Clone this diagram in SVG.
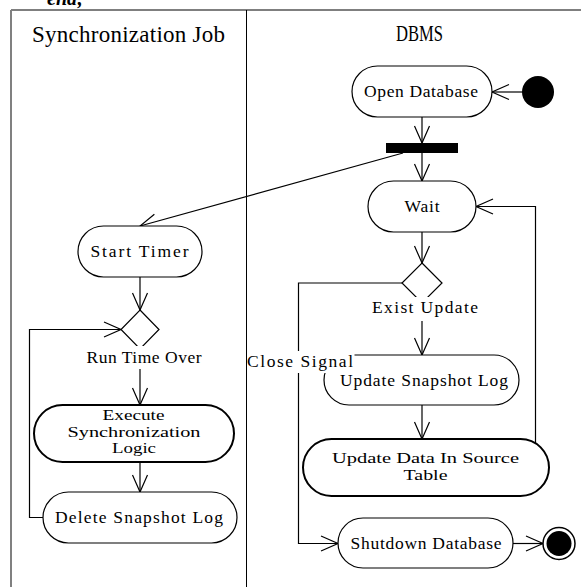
<svg xmlns="http://www.w3.org/2000/svg" width="581" height="587" viewBox="0 0 581 587">
  <style>
    .act { fill: #fff; stroke: #000; stroke-width: 1.2; }
    .act.thick { stroke-width: 2; }
    .lbl { font-family: "Liberation Serif", "Times New Roman", serif; font-size: 17.5px; fill: #000; text-anchor: middle; }
    .lbl.multi { font-size: 15px; }
    .hdr { font-family: "Liberation Serif", "Times New Roman", serif; font-size: 23px; fill: #000; }
    .edge { fill: none; stroke: #000; stroke-width: 1.2; }
    .bg { fill: #fff; }
  </style>
  <defs>
    <marker id="open" viewBox="-19 -10 21 20" refX="0" refY="0" markerWidth="21" markerHeight="20" markerUnits="userSpaceOnUse" orient="auto">
      <path d="M-17,-7.5 L0,0 L-17,7.5" fill="none" stroke="#000" stroke-width="1.2"/>
    </marker>
  </defs>
  <rect width="581" height="587" fill="#fff"/>

  <!-- fragment of preceding text -->
  <text x="47" y="5" font-family="Liberation Serif, serif" font-size="20" font-weight="bold" font-style="italic">end;</text>

  <!-- swimlane frame -->
  <g id="lanes">
    <line x1="11" y1="10" x2="581" y2="10" stroke="#000" stroke-width="1.2"/>
    <line x1="11" y1="10" x2="11" y2="587" stroke="#808080" stroke-width="2"/>
    <line x1="246.5" y1="10" x2="246.5" y2="587" stroke="#000" stroke-width="1"/>
    <text class="hdr" x="32" y="42" textLength="193">Synchronization Job</text>
    <text class="hdr" x="396" y="41" font-size="26" textLength="47" lengthAdjust="spacingAndGlyphs">DBMS</text>
  </g>

  <!-- connectors -->
  <g id="connectors" class="edge" marker-end="url(#open)">
    <path d="M522,92 L492,92"/>
    <path d="M422,117 L422,143"/>
    <path d="M422,153 L422,181"/>
    <path d="M403,153 L140,226"/>
    <path d="M140,277 L140,310"/>
    <path d="M43,517.5 L29.5,517.5 L29.5,329.5 L121,329.5"/>
    <path d="M140,369 L140,405"/>
    <path d="M140,462 L140,492"/>
    <path d="M422,232 L422,263"/>
    <path d="M402,283 L298.5,283 L298.5,543.5 L338,543.5"/>
    <path d="M422,321 L422,355"/>
    <path d="M422,405 L422,439"/>
    <path d="M535.5,443 L535.5,206.5 L476,206.5"/>
    <path d="M513,543.5 L543,543.5"/>
  </g>

  <!-- DBMS lane -->
  <g id="start">
    <circle cx="538" cy="92" r="16" fill="#000"/>
  </g>
  <g id="open-database">
    <rect class="act" x="352" y="66" width="140" height="51" rx="25.5"/>
    <text class="lbl" x="421" y="97" textLength="114">Open Database</text>
  </g>
  <g id="fork">
    <rect x="386" y="143" width="72" height="10" fill="#000"/>
  </g>
  <g id="wait">
    <rect class="act" x="368" y="181" width="108" height="51" rx="25.5"/>
    <text class="lbl" x="422" y="211.5" textLength="35">Wait</text>
  </g>
  <g id="exist-update">
    <polygon class="act" points="422,263 442,283 422,303 402,283"/>
    <rect class="bg" x="368" y="297" width="114" height="23"/>
    <text class="lbl" x="425" y="313" textLength="106">Exist Update</text>
  </g>
  <g id="update-snapshot-log">
    <rect class="act" x="324" y="355" width="195" height="50" rx="25"/>
    <text class="lbl" x="424" y="386" textLength="168">Update Snapshot Log</text>
  </g>
  <g id="update-data">
    <rect class="act thick" x="303" y="439" width="246" height="57" rx="28.5"/>
    <text class="lbl multi"><tspan x="425.5" y="462.5" textLength="187" lengthAdjust="spacingAndGlyphs">Update Data In Source</tspan><tspan x="425.5" y="479.5" textLength="44" lengthAdjust="spacingAndGlyphs">Table</tspan></text>
  </g>
  <g id="shutdown-database">
    <rect class="act" x="338" y="518" width="175" height="50" rx="25"/>
    <text class="lbl" x="426" y="549" textLength="151">Shutdown Database</text>
  </g>
  <g id="end">
    <circle cx="559" cy="543.5" r="16" fill="#fff" stroke="#000" stroke-width="1.5"/>
    <circle cx="559" cy="543.5" r="12.5" fill="#000"/>
  </g>
  <g id="close-signal">
    <rect class="bg" x="247.5" y="351" width="107" height="22"/>
    <text class="lbl" x="300" y="367" textLength="106">Close Signal</text>
  </g>

  <!-- Synchronization Job lane -->
  <g id="start-timer">
    <rect class="act" x="78" y="226" width="124" height="51" rx="25.5"/>
    <text class="lbl" x="139.5" y="256.5" textLength="98">Start Timer</text>
  </g>
  <g id="run-time-over">
    <polygon class="act" points="140,310 159,329.5 140,349 121,329.5"/>
    <rect class="bg" x="84" y="346" width="120" height="23"/>
    <text class="lbl" x="144" y="363" textLength="115">Run Time Over</text>
  </g>
  <g id="execute-sync">
    <rect class="act thick" x="34" y="405" width="200" height="57" rx="28.5"/>
    <text class="lbl multi"><tspan x="133.5" y="420" textLength="62" lengthAdjust="spacingAndGlyphs">Execute</tspan><tspan x="134" y="436.7" textLength="133" lengthAdjust="spacingAndGlyphs">Synchronization</tspan><tspan x="134" y="453.4" textLength="44" lengthAdjust="spacingAndGlyphs">Logic</tspan></text>
  </g>
  <g id="delete-snapshot-log">
    <rect class="act" x="43" y="492" width="194" height="51" rx="25.5"/>
    <text class="lbl" x="139" y="523" textLength="168">Delete Snapshot Log</text>
  </g>
</svg>
